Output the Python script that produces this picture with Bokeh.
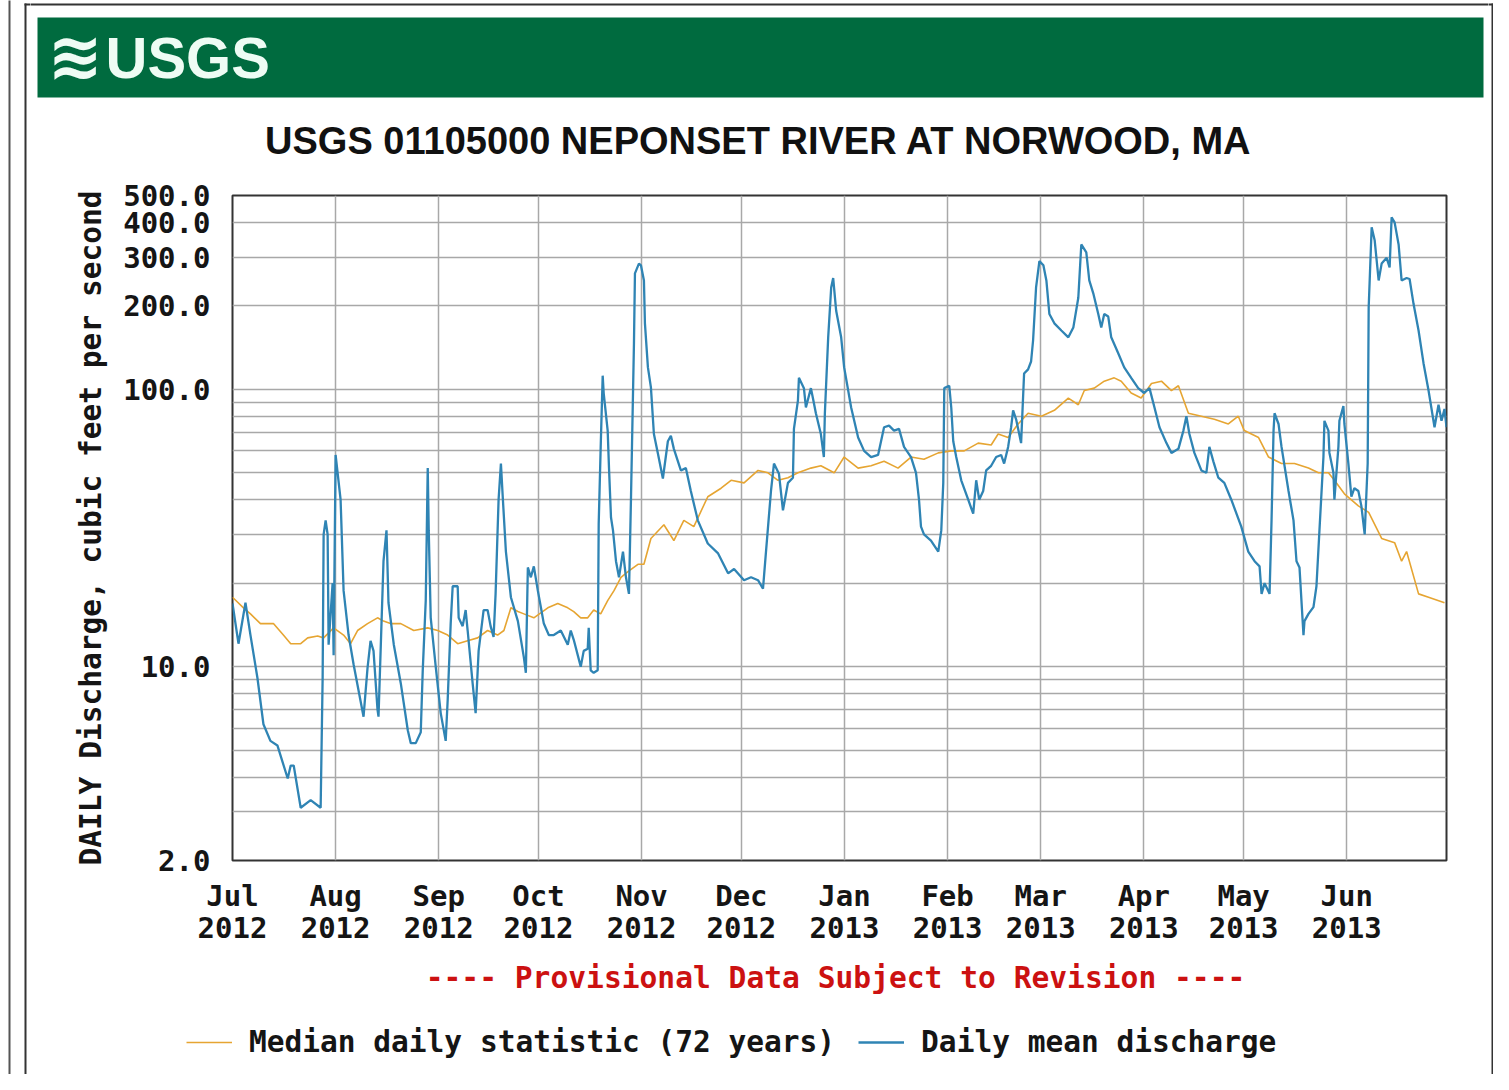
import numpy as np
import pandas as pd
from bokeh.plotting import figure
from bokeh.layouts import row, column
from bokeh.models import (Range1d, FixedTicker, PrintfTickFormatter, CustomJSTickFormatter,
                          Label, BoxAnnotation, Legend, LegendItem)
from bokeh.embed import file_html
from bokeh.resources import INLINE

# ---------------- data ----------------
start_date = "2012-07-01"
end_date = "2013-07-01"

month_names = ["Jul", "Aug", "Sep", "Oct", "Nov", "Dec", "Jan", "Feb", "Mar", "Apr", "May", "Jun"]
month_years = ["2012", "2012", "2012", "2012", "2012", "2012", "2013", "2013", "2013", "2013", "2013", "2013"]
month_starts = ["2012-07-01", "2012-08-01", "2012-09-01", "2012-10-01", "2012-11-01", "2012-12-01",
                "2013-01-01", "2013-02-01", "2013-03-01", "2013-04-01", "2013-05-01", "2013-06-01"]

y_tick_values = [2, 10, 100, 200, 300, 400, 500]
y_grid_values = [2, 3, 4, 5, 6, 7, 8, 9, 10, 20, 30, 40, 50, 60, 70, 80, 90, 100, 200, 300, 400, 500]

# days since 2012-07-01
blue_day = [0.0, 1.8, 3.9, 5.4, 7.5, 9.3, 11.4, 13.5, 16.6, 17.5,
            18.4, 20.5, 23.5, 26.5, 27.1, 27.4, 28.0, 28.6, 28.9, 30.1,
            30.4, 31.0, 32.5, 33.4, 34.9, 36.4, 37.9, 39.4, 40.6, 41.5,
            42.4, 43.6, 43.9, 45.4, 46.3, 46.9, 48.5, 50.6, 52.7, 53.6,
            55.1, 56.6, 57.2, 58.1, 58.7, 59.0, 59.6, 61.1, 62.6, 64.1,
            64.7, 65.6, 66.2, 67.7, 68.0, 69.2, 70.1, 70.7, 72.2, 73.1,
            74.0, 75.5, 76.7, 77.6, 78.5, 79.1, 80.0, 80.7, 81.3, 82.2,
            83.7, 85.8, 87.6, 88.2, 88.8, 89.7, 90.6, 91.8, 92.7, 93.6,
            95.1, 96.6, 98.7, 100.8, 101.7, 102.6, 104.7, 105.6, 106.8, 107.1,
            107.7, 108.6, 109.8, 110.1, 110.7, 111.3, 111.6, 112.8, 113.2, 113.8,
            114.4, 115.3, 116.2, 117.4, 118.3, 119.2, 119.8, 120.7, 121.0, 122.2,
            122.8, 123.7, 124.0, 124.9, 125.8, 126.7, 127.9, 129.4, 130.9, 131.8,
            132.7, 134.8, 136.3, 137.8, 139.9, 142.9, 146.0, 149.0, 150.8, 153.8,
            155.9, 158.0, 159.5, 160.4, 161.9, 162.8, 164.3, 165.5, 167.0, 168.5,
            168.8, 170.0, 170.3, 171.8, 172.4, 173.9, 174.5, 175.4, 176.9, 177.8,
            178.1, 179.1, 180.0, 180.6, 181.5, 183.0, 183.9, 186.0, 188.1, 189.9,
            192.0, 194.1, 195.9, 197.4, 198.9, 200.4, 201.9, 204.0, 205.5, 206.4,
            207.0, 207.9, 210.0, 212.2, 213.1, 213.7, 214.0, 215.5, 216.1, 216.7,
            217.6, 219.1, 221.2, 222.7, 223.6, 224.5, 225.7, 226.6, 228.1, 229.6,
            231.1, 232.0, 233.2, 234.1, 234.7, 235.6, 237.1, 238.0, 239.2, 240.1,
            240.7, 241.6, 242.6, 243.8, 244.7, 245.6, 247.1, 249.2, 251.3, 252.8,
            254.3, 255.2, 256.7, 257.6, 258.8, 260.3, 261.2, 262.1, 263.3, 264.2,
            266.3, 268.1, 270.2, 272.3, 274.1, 275.7, 277.2, 278.7, 280.8, 282.3,
            284.4, 285.9, 286.8, 287.7, 289.2, 291.3, 292.8, 293.7, 294.9, 296.4,
            298.2, 300.3, 303.3, 305.4, 307.3, 308.8, 309.4, 310.3, 311.8, 312.4,
            313.0, 313.3, 314.5, 315.4, 317.5, 319.0, 319.9, 320.8, 322.0, 322.3,
            323.5, 325.0, 325.9, 326.8, 328.0, 328.3, 329.5, 329.8, 331.0, 331.3,
            332.5, 332.8, 334.0, 334.3, 335.5, 336.4, 337.3, 338.5, 339.4, 340.4,
            341.3, 341.6, 342.5, 343.4, 344.6, 345.5, 347.0, 347.9, 348.5, 349.4,
            350.6, 351.5, 353.0, 353.9, 355.1, 356.6, 358.1, 359.6, 361.4, 362.6,
            363.5, 364.4, 365.0]
blue_cfs = [16.9, 12.1, 17, 13, 9.1, 6.2, 5.4, 5.2, 3.95, 4.4,
            4.4, 3.1, 3.3, 3.1, 9.1, 30, 33.7, 30, 12, 20,
            11, 58, 40, 18.8, 13, 10.2, 8.2, 6.6, 9.9, 12.4,
            11.4, 7, 6.6, 24, 31, 17, 12, 8.7, 5.9, 5.3,
            5.3, 5.8, 9.7, 17.3, 52, 31, 15, 10, 6.8, 5.4,
            7.6, 14.3, 19.5, 19.5, 15, 14, 16, 13.5, 8.7, 6.8,
            11.4, 16, 16, 14, 12.8, 18.3, 40, 54, 40, 26,
            17.8, 14.6, 10.8, 9.5, 22.8, 21, 23, 18.8, 16.4, 14.3,
            13, 13, 13.5, 12, 13.5, 12.5, 10, 11.4, 11.6, 13.8,
            9.7, 9.5, 9.7, 32.8, 62, 112, 97, 71, 52, 34.5,
            31, 24, 21, 26, 21, 18.3, 40, 146, 262, 284,
            280, 247, 173, 120, 101.6, 69, 58.7, 47.7, 65, 68,
            61, 51, 52, 43, 33.7, 27.8, 25.6, 21.7, 22.5, 20.5,
            21, 20.5, 19.1, 26, 43, 54, 49.6, 36.6, 46, 48,
            72, 91, 110, 101, 86, 101, 93, 82, 69, 57,
            82, 154, 233, 252, 192, 154, 120, 86, 67, 60,
            57, 58, 73, 74, 71, 72, 62, 57, 50, 40,
            32, 30, 28.5, 26, 31, 46, 101, 103, 86, 65,
            57, 47, 40, 35.6, 47, 40, 43, 51, 53, 57,
            58, 54, 62, 73, 84, 78, 64, 114, 118, 126,
            150, 233, 290, 280, 247, 187, 173, 163, 154, 167,
            214, 333, 312, 247, 222, 187, 167, 187, 183, 154,
            135, 120, 110, 101, 97, 101, 86, 73, 64, 59,
            61, 71, 80, 69, 59, 51, 50, 62, 55, 48,
            46, 40, 32, 26, 24, 23, 18.3, 20, 18.3, 33.7,
            71, 82, 75, 62, 43, 33.7, 24, 22.8, 13, 14.6,
            15.5, 16.4, 19.5, 31, 57, 77, 71, 59, 50, 40,
            62, 77, 87, 75, 54, 41, 44, 43, 38, 30,
            54, 197, 384, 345, 247, 284, 298, 275, 417, 400,
            333, 247, 252, 250, 203, 163, 124, 99, 73, 88,
            77, 85, 73]

median_day = [0.0, 3.3, 5.4, 8.4, 12.3, 15.3, 17.5, 20.5, 22.6, 25.6,
              27.4, 30.4, 33.4, 35.5, 37.6, 40.6, 43.6, 45.4, 47.5, 50.6,
              54.5, 58.7, 61.7, 64.7, 67.7, 70.7, 73.7, 76.7, 79.7, 81.6,
              83.7, 85.8, 87.6, 90.6, 94.8, 97.8, 100.8, 102.6, 104.7, 106.8,
              108.6, 110.7, 112.8, 114.7, 116.8, 118.9, 121.9, 123.7, 125.8, 129.7,
              132.7, 135.7, 138.7, 142.9, 146.9, 149.9, 153.8, 158.0, 161.0, 164.0,
              167.0, 170.0, 173.9, 176.9, 180.9, 183.9, 188.1, 192.0, 195.9, 200.1,
              204.0, 207.9, 212.2, 216.1, 220.0, 224.2, 228.1, 230.2, 233.2, 236.2,
              239.2, 243.2, 247.1, 251.3, 254.3, 256.1, 259.1, 262.1, 265.1, 267.2,
              270.2, 273.2, 276.3, 279.3, 282.3, 284.4, 287.4, 291.3, 295.2, 299.4,
              302.4, 304.2, 308.5, 311.5, 315.4, 319.3, 323.5, 326.5, 329.5, 331.3,
              334.3, 338.5, 341.6, 345.5, 349.4, 351.5, 353.0, 356.6, 359.6, 364.4]
median_cfs = [17.8, 16.3, 15.5, 14.3, 14.3, 13, 12.1, 12.1, 12.7, 12.9,
              12.7, 13.8, 13, 12.1, 13.5, 14.3, 15, 14.6, 14.3, 14.3,
              13.5, 13.8, 13.5, 13, 12.1, 12.4, 12.7, 13.5, 13, 13.5,
              16.3, 15.8, 15.5, 15, 16.3, 16.9, 16.3, 15.8, 15, 15,
              16, 15.5, 17.3, 18.8, 21, 22, 23.4, 23.4, 29, 32.5,
              28.5, 33.7, 32, 41, 44, 47, 46, 51, 50, 47,
              48, 50, 52, 53, 50, 57, 52, 53, 55, 52,
              57, 56, 59, 60, 60, 64, 63, 69, 67, 75,
              82, 80, 84, 93, 88, 99, 101, 107, 110, 107,
              97, 93, 105, 107, 99, 103, 82, 80, 78, 75,
              80, 71, 67, 57, 54, 54, 52, 50, 50, 47,
              42, 38, 36, 29, 28, 24, 26, 18.3, 17.8, 17]

logo_text = "USGS"
title_text = "USGS 01105000 NEPONSET RIVER AT NORWOOD, MA"
y_label = "DAILY Discharge, cubic feet per second"
provisional_text = "---- Provisional Data Subject to Revision ----"
median_label = "Median daily statistic (72 years)"
blue_label = "Daily mean discharge"

# ---------------- styling ----------------
MONO = "DejaVu Sans Mono"
SANS = "Liberation Sans"
BLUE = "#2f84b4"
ORANGE = "#e6a532"
GREEN = "#006b3f"
FRAME = "#333333"

LEFT_W, CENTER_W, RIGHT_W = 30, 1458, 5
HEAD_H, MAIN_H, FOOT_H = 166, 789, 119
TOTAL_H = HEAD_H + MAIN_H + FOOT_H
FRAME_TOP = 195 - HEAD_H          # frame top at y 195
FRAME_BOTTOM = MAIN_H - (860 - HEAD_H)  # frame bottom at y 860

start = pd.Timestamp(start_date)
end = pd.Timestamp(end_date)


def days_to_dt(days):
    return start + pd.to_timedelta(np.array(days, dtype=float), unit="D")


def deco(w, h):
    f = figure(width=w, height=h, title=None, toolbar_location=None, output_backend="svg",
               x_axis_location=None, y_axis_location=None, min_border=0,
               x_range=Range1d(0, w), y_range=Range1d(0, h))
    f.frame_align = False
    f.outline_line_color = None
    f.background_fill_color = "white"
    f.border_fill_color = "white"
    f.grid.visible = False
    return f


def box(f, h, left, right, top, bottom, color):
    # left/right/top/bottom given in pixels from the figure's top-left corner
    f.add_layout(BoxAnnotation(left=left, right=right, top=h - top, bottom=h - bottom,
                               left_units="screen", right_units="screen",
                               top_units="screen", bottom_units="screen",
                               fill_color=color, fill_alpha=1, line_color=None))


# ---- left strip (x 0..30) ----
left_strip = deco(LEFT_W, TOTAL_H)
box(left_strip, TOTAL_H, 8, 10, -5, TOTAL_H + 5, "#555555")
box(left_strip, TOTAL_H, 24, 26, 3, TOTAL_H + 5, FRAME)
box(left_strip, TOTAL_H, 24, LEFT_W + 2, 3, 5, FRAME)

# ---- right strip (x 1488..1493) ----
right_strip = deco(RIGHT_W, TOTAL_H)
box(right_strip, TOTAL_H, 3, 5, 3, TOTAL_H + 5, FRAME)
box(right_strip, TOTAL_H, -2, 5, 3, 5, FRAME)

# ---- header (x 30..1488, y 0..166) ----
header = deco(CENTER_W, HEAD_H)
box(header, HEAD_H, -2, CENTER_W + 2, 3, 5, FRAME)
box(header, HEAD_H, 7, 1453, 17, 97, GREEN)
header.add_layout(Label(x=17, y=HEAD_H - 56, x_units="screen", y_units="screen", text="≋",
                        text_baseline="middle", text_color="#eefcf4", text_font="DejaVu Sans",
                        text_font_style="bold", text_font_size="66px"))
header.add_layout(Label(x=75, y=HEAD_H - 57, x_units="screen", y_units="screen", text=logo_text,
                        text_baseline="middle", text_color="#eefcf4", text_font=SANS,
                        text_font_style="bold", text_font_size="58px"))
header.add_layout(Label(x=728, y=HEAD_H - 140, x_units="screen", y_units="screen", text=title_text,
                        text_align="center", text_baseline="middle", text_color="#111111",
                        text_font=SANS, text_font_style="bold", text_font_size="38px"))

# ---- main chart (x 30..1488, y 166..955); frame at x 232..1446, y 195..860 ----
month_ms = [pd.Timestamp(s).value / 1e6 for s in month_starts]
month_labels = [m + "\n" + y for m, y in zip(month_names, month_years)]

p = figure(width=CENTER_W, height=MAIN_H, x_axis_type="datetime", y_axis_type="log",
           x_range=Range1d(start, end), y_range=Range1d(2, 500),
           output_backend="svg", toolbar_location=None, title=None,
           min_border_left=202, min_border_right=42,
           min_border_top=FRAME_TOP, min_border_bottom=FRAME_BOTTOM)
p.frame_align = False
p.background_fill_color = "white"
p.border_fill_color = "white"
p.outline_line_color = FRAME
p.outline_line_width = 2

p.xgrid.ticker = FixedTicker(ticks=month_ms)
p.ygrid.ticker = FixedTicker(ticks=y_grid_values)
for g in (p.xgrid, p.ygrid):
    g.grid_line_color = "#a8a8a8"
    g.grid_line_width = 1.5

p.yaxis.ticker = FixedTicker(ticks=y_tick_values)
p.yaxis.formatter = PrintfTickFormatter(format="%.1f")
p.xaxis.ticker = FixedTicker(ticks=month_ms)
p.xaxis.formatter = CustomJSTickFormatter(args=dict(tick_ms=month_ms, labels=month_labels), code="""
let best = 0, bd = Infinity;
for (let i = 0; i < tick_ms.length; i++) {
  const d = Math.abs(tick_ms[i] - tick);
  if (d < bd) { bd = d; best = i; }
}
return labels[best];
""")

for ax in (p.xaxis[0], p.yaxis[0]):
    ax.axis_line_color = None
    ax.major_tick_line_color = None
    ax.minor_tick_line_color = None
    ax.major_tick_out = 0
    ax.major_tick_in = 0
    ax.minor_tick_out = 0
    ax.major_label_text_font = MONO
    ax.major_label_text_font_style = "bold"
    ax.major_label_text_font_size = "29px"
    ax.major_label_text_color = "#151515"
p.xaxis.major_label_standoff = 18
p.xaxis.major_label_text_line_height = 0.95
p.yaxis.major_label_standoff = 22
p.yaxis.axis_label = y_label
p.yaxis.axis_label_text_font = MONO
p.yaxis.axis_label_text_font_style = "bold"
p.yaxis.axis_label_text_font_size = "29.5px"
p.yaxis.axis_label_text_color = "#151515"
p.yaxis.axis_label_standoff = 12

p.line(days_to_dt(median_day), median_cfs, line_color=ORANGE, line_width=1.6)
p.line(days_to_dt(blue_day), blue_cfs, line_color=BLUE, line_width=2.3)

# ---- footer (x 30..1488, y 955..1074) ----
footer = deco(CENTER_W, FOOT_H)
footer.add_layout(Label(x=805, y=FOOT_H - 22, x_units="screen", y_units="screen", text=provisional_text,
                        text_align="center", text_baseline="middle", text_color="#cc1111",
                        text_font=MONO, text_font_style="bold", text_font_size="29.6px"))
# legend samples: renderers whose points lie outside the footer's visible range
leg_med = footer.line(x=[-1000, -999], y=[-1000, -1000], line_color=ORANGE, line_width=1.6)
leg_blue = footer.line(x=[-1000, -999], y=[-1000, -1000], line_color=BLUE, line_width=2.3)
legend = Legend(items=[LegendItem(label=median_label, renderers=[leg_med]),
                       LegendItem(label=blue_label, renderers=[leg_blue])],
                location=(156, 15), orientation="horizontal",
                glyph_width=46, glyph_height=20, label_standoff=17, spacing=23,
                padding=0, margin=0, border_line_color=None, background_fill_alpha=0,
                label_text_font=MONO, label_text_font_style="bold", label_text_font_size="29.5px",
                label_text_color="#151515")
footer.add_layout(legend)

layout = row(left_strip, column(header, p, footer), right_strip)
open("out.html", "w").write(file_html(layout, INLINE))
